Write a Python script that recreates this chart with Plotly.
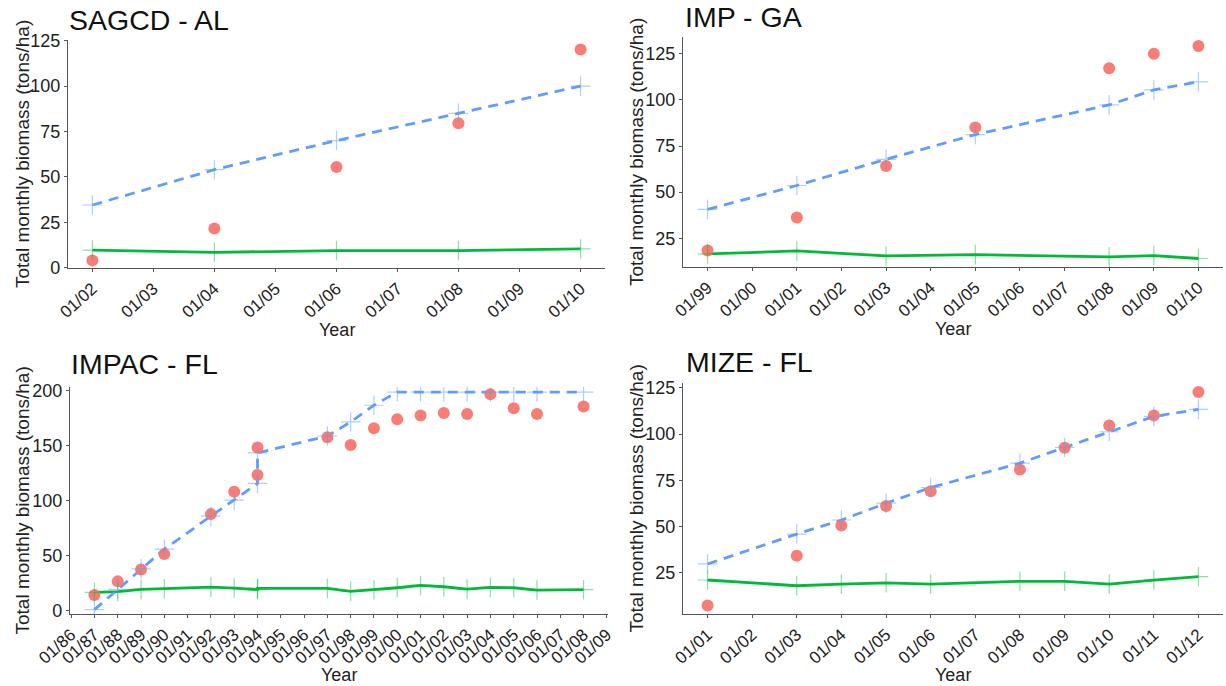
import pandas as pd
import plotly.graph_objects as go

# ---- SAGCD - AL ----
sagcd_years = [2002, 2004, 2006, 2008, 2010]
sagcd_observed = [4.0, 21.5, 55.4, 79.6, 120.2]
sagcd_modeled = [34.5, 54.0, 70.0, 85.0, 100.0]
sagcd_baseline = [9.7, 8.4, 9.4, 9.4, 10.3]

# ---- IMP - GA ----
imp_years = [1999, 2001, 2003, 2005, 2008, 2009, 2010]
imp_observed = [18.3, 36.2, 64.1, 85.1, 117.2, 125.0, 129.2]
imp_modeled = [40.6, 53.6, 67.8, 81.2, 97.3, 105.4, 109.8]
imp_baseline = [16.5, 18.1, 15.4, 16.1, 14.9, 15.6, 14.0]

# ---- IMPAC - FL ----
impac_years = [1987, 1988, 1989, 1990, 1992, 1993, 1994, 1994, 1997, 1998,
               1999, 2000, 2001, 2002, 2003, 2004, 2005, 2006, 2008]
impac_observed = [14.2, 26.7, 37.6, 51.5, 87.9, 108.2, 123.6, 148.5, 157.9, 150.9,
                  166.0, 174.2, 177.6, 180.0, 179.1, 197.0, 184.2, 179.1, 185.8]
impac_modeled = [1.0, 19.5, 38.0, 56.0, 86.0, 100.6, 115.8, 143.6, 159.0, 171.8,
                 187.0, 199.0, 199.0, 199.0, 199.0, 199.0, 199.0, 199.0, 199.0]
impac_baseline = [16.7, 17.3, 19.4, 20.0, 21.5, 20.6, 19.2, 20.3, 20.3, 17.6,
                  19.1, 20.9, 23.0, 21.8, 19.7, 21.2, 20.9, 18.8, 19.1]

# ---- MIZE - FL ----
mize_years = [2001, 2003, 2004, 2005, 2006, 2008, 2009, 2010, 2011, 2012]
mize_observed = [7.2, 34.2, 50.5, 61.1, 69.1, 80.8, 92.6, 104.7, 110.1, 122.8]
mize_modeled = [29.7, 45.9, 53.5, 62.6, 71.1, 84.3, 92.8, 101.3, 109.6, 113.4]
mize_baseline = [21.0, 17.9, 18.8, 19.5, 18.8, 20.3, 20.3, 18.8, 21.0, 22.8]

panel_titles = ["SAGCD - AL", "IMP - GA", "IMPAC - FL", "MIZE - FL"]
y_title = "Total monthly biomass (tons/ha)"
x_title = "Year"

RED = "#F8766D"
BLUE = "#619CFF"
GREEN = "#00BA38"
BLUE_CROSS = "rgba(97,156,255,0.5)"
GREEN_CROSS = "rgba(0,186,56,0.45)"
FONT = "Liberation Sans, Arial, sans-serif"
W, H = 1226, 686

panels = [
    dict(years=sagcd_years, obs=sagcd_observed, mod=sagcd_modeled, base=sagcd_baseline,
         px=(68, 605), py=(40, 268), yrange=[-0.2, 125.4], ytick=[0, 25, 50, 75, 100, 125],
         title_xy=(67, 20), ytitle_x=22, xtitle_y=330),
    dict(years=imp_years, obs=imp_observed, mod=imp_modeled, base=imp_baseline,
         px=(683, 1223), py=(37, 267), yrange=[9.4, 134.1], ytick=[25, 50, 75, 100, 125],
         title_xy=(683, 17), ytitle_x=636, xtitle_y=329),
    dict(years=impac_years, obs=impac_observed, mod=impac_modeled, base=impac_baseline,
         px=(70, 608), py=(387, 614), yrange=[-3.0, 203.6], ytick=[0, 50, 100, 150, 200],
         title_xy=(69, 364), ytitle_x=22, xtitle_y=675),
    dict(years=mize_years, obs=mize_observed, mod=mize_modeled, base=mize_baseline,
         px=(683, 1223), py=(383, 614), yrange=[2.6, 127.7], ytick=[25, 50, 75, 100, 125],
         title_xy=(684, 362), ytitle_x=636, xtitle_y=675),
]

fig = go.Figure()
layout = {}
annotations = []

for i, p in enumerate(panels):
    n = "" if i == 0 else str(i + 1)
    xa, ya = "x" + n, "y" + n
    dates = [pd.Timestamp(year=y, month=1, day=1) for y in p["years"]]
    first, last = min(dates), max(dates)
    pad = (last - first) * 0.05
    xr = [first - pad, last + pad]

    common = dict(xaxis=xa, yaxis=ya, showlegend=False, hoverinfo="skip")
    # lines underneath
    fig.add_trace(go.Scatter(x=dates, y=p["base"], mode="lines",
                             line=dict(color=GREEN, width=2.8), **common))
    fig.add_trace(go.Scatter(x=dates, y=p["mod"], mode="lines",
                             line=dict(color=BLUE, width=2.8, dash="10px,7px"), **common))
    # observed points
    fig.add_trace(go.Scatter(x=dates, y=p["obs"], mode="markers",
                             marker=dict(symbol="circle", size=12, color=RED,
                                         opacity=0.95), **common))
    # "+" markers on the model lines
    fig.add_trace(go.Scatter(x=dates, y=p["base"], mode="markers",
                             marker=dict(symbol="cross-thin-open", size=14, color=GREEN_CROSS,
                                         line=dict(color=GREEN_CROSS, width=1.2)), **common))
    fig.add_trace(go.Scatter(x=dates, y=p["mod"], mode="markers",
                             marker=dict(symbol="cross-thin-open", size=14, color=BLUE_CROSS,
                                         line=dict(color=BLUE_CROSS, width=1.2)), **common))

    x0, x1 = p["px"]
    y0, y1 = p["py"]
    axis_common = dict(
        showline=True, linecolor="#555555", linewidth=1.2,
        ticks="outside", ticklen=3, tickwidth=1, tickcolor="#555555",
        showgrid=False, zeroline=False, automargin=False,
        tickfont=dict(family=FONT, size=18, color="#222222"),
    )
    layout["xaxis" + n] = dict(
        axis_common, domain=[x0 / W, x1 / W], anchor=ya,
        type="date", range=xr, dtick="M12",
        tick0="1980-01-01", tickformat="%m/%y", tickangle=-42,
    )
    layout["xaxis" + n]["tickfont"] = dict(family=FONT, size=17, color="#222222")
    layout["yaxis" + n] = dict(
        axis_common, domain=[1 - y1 / H, 1 - y0 / H], anchor=xa,
        range=p["yrange"], tickmode="array", tickvals=p["ytick"],
    )

    tx, ty = p["title_xy"]
    annotations.append(dict(
        text=panel_titles[i], xref="paper", yref="paper",
        x=tx / W, y=1 - ty / H, xanchor="left", yanchor="middle",
        showarrow=False, font=dict(family=FONT, size=28.5, color="#111111")))
    annotations.append(dict(
        text=y_title, xref="paper", yref="paper",
        x=p["ytitle_x"] / W, y=1 - (y0 + y1) / 2 / H, textangle=-90,
        xanchor="center", yanchor="middle",
        showarrow=False, font=dict(family=FONT, size=19, color="#222222")))
    annotations.append(dict(
        text=x_title, xref="paper", yref="paper",
        x=(x0 + x1) / 2 / W, y=1 - p["xtitle_y"] / H,
        xanchor="center", yanchor="middle",
        showarrow=False, font=dict(family=FONT, size=18, color="#222222")))

fig.update_layout(
    width=W, height=H,
    margin=dict(l=0, r=0, t=0, b=0, autoexpand=False),
    paper_bgcolor="white", plot_bgcolor="white",
    annotations=annotations,
    **layout,
)

fig.write_html("out.html")
